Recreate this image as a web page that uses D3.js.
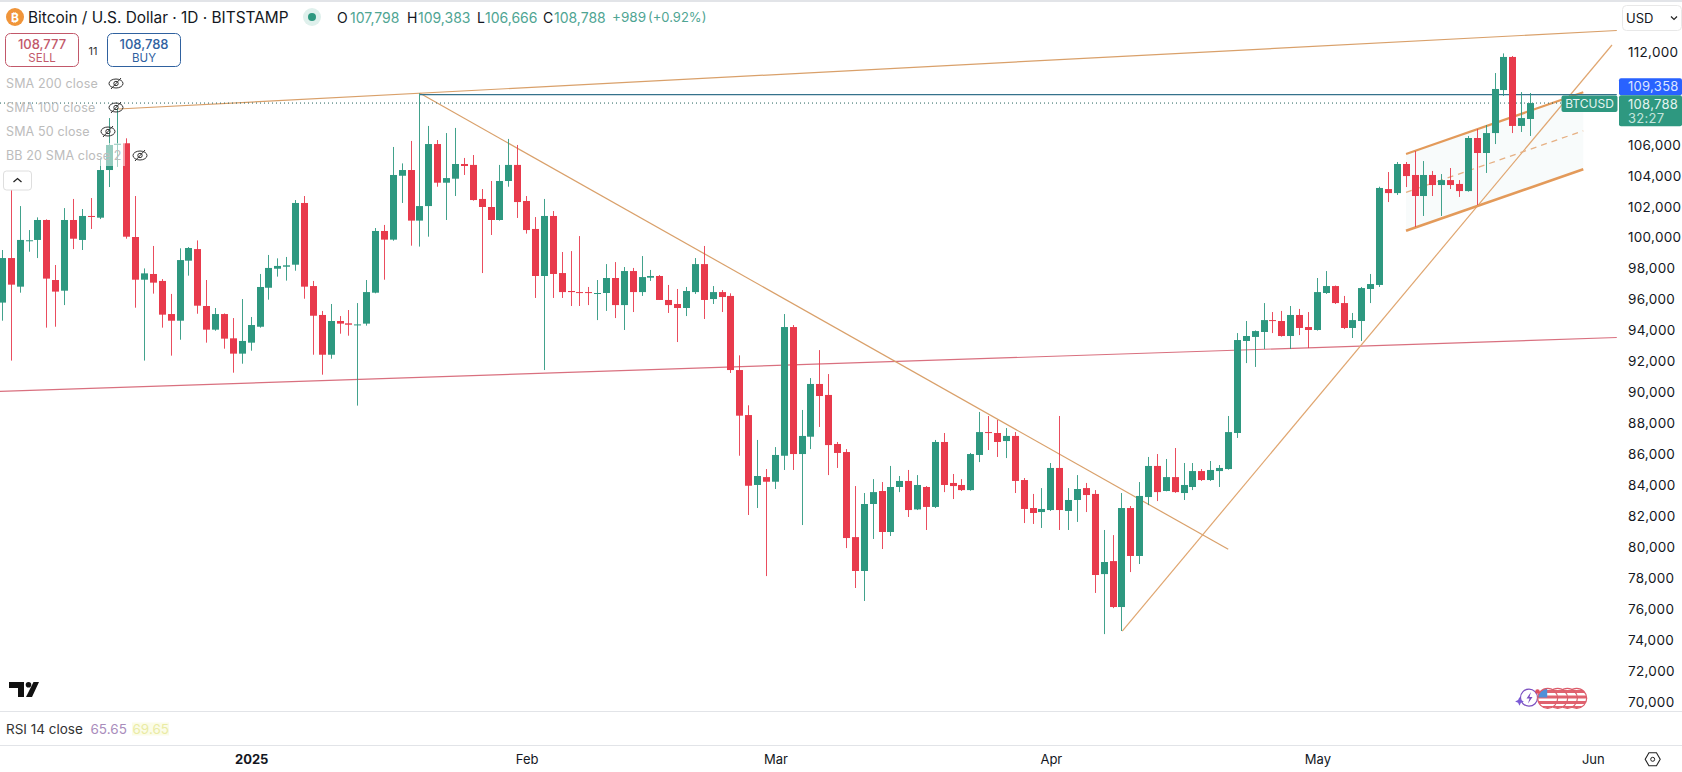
<!DOCTYPE html>
<html>
<head>
<meta charset="utf-8">
<script src="https://cdn.jsdelivr.net/npm/d3@7"></script>
<style>
html, body { margin: 0; padding: 0; background: #fff; overflow: hidden; }
text { font-family: Inter, "Noto Sans", sans-serif; }
</style>
</head>
<body>
<script>
// daily candles, index 0 = 4 Dec 2024
const opens = [
95800,98680,96830,99800,99850,101140,97260,96570,101140,99850,
101400,101290,104370,106000,106100,100040,97280,97650,97200,95060,
94630,98510,99260,95580,94050,95060,93490,92500,93210,94240,
96760,97990,98120,98250,102240,96870,95000,92430,94610,94460,
94350,94440,96440,100430,99870,104000,104370,101100,102040,106050,
103550,103810,104760,104700,102500,101980,101140,103660,104700,102370,
100560,97520,101400,97710,96550,96480,96480,96380,96420,97390,
95640,97840,96480,97410,97520,95970,95710,95450,96480,98290,
96030,96480,96230,91440,88530,84010,84520,84220,85900,94220,
86010,87130,90540,89830,86660,86140,80640,78450,82780,83620,
80970,83880,84270,82430,83880,82590,86790,84140,84010,83680,
85950,87430,87370,86850,87180,84330,82520,82260,82390,85110,
82330,83040,83810,83430,78250,79090,76120,82520,79420,83230,
85240,83620,84520,83490,83880,84910,84330,84910,85040,87370,
93320,93580,93900,94670,94610,93640,95000,94220,94030,96420,
96870,95770,94160,94610,96680,96940,103140,102880,104760,104050,
102690,104050,103400,103720,103470,103010,106440,105470,106760,109540,
111680,107220,107670];
const closes = [
98680,96960,99850,99830,101140,97350,96510,101140,99930,101400,
101360,104370,105990,106070,100060,97280,97690,97090,95020,94630,
98550,99330,95600,94050,95060,93470,92500,93320,94350,96810,
98040,98170,98210,102240,96830,94950,92430,94610,94440,94370,
94390,96480,100430,99870,104050,104370,101100,102040,106050,103550,
103850,104760,104630,102430,101980,101140,103660,104700,102300,100490,
97520,101400,97650,96480,96480,96420,96420,96420,97390,95640,
97840,96480,97450,97520,95970,95640,95450,96550,98290,95970,
96480,96160,91440,88490,83960,84590,84220,85950,94220,86010,
87180,90540,89760,86590,86080,80580,78450,82780,83550,80970,
83880,84270,82390,84010,82590,86790,84010,83940,83680,86010,
87430,87370,86790,87180,84270,82460,82200,82460,85110,82390,
83040,83750,83360,78190,79030,76120,82520,79420,83300,85240,
83550,84520,83550,84010,84910,84330,84980,85110,87430,93380,
93640,93960,94670,94610,93640,95000,94160,94030,96480,96870,
95770,94160,94670,96740,97000,103210,102880,104760,103980,102690,
104050,103400,103720,103400,103010,106440,105470,106760,109610,111680,
107220,107730,108700];
const highs = [
99200,104050,102040,100490,101310,101180,98230,101910,102500,101850,
102560,105130,107730,108380,106420,102690,98010,99460,97320,96360,
99310,99390,99820,97260,95450,95100,94800,96030,94870,97650,
98880,98660,98750,102430,102690,97200,95260,95710,94930,95320,
95770,97260,100620,100820,105860,104800,106250,109330,107220,106310,
106760,107090,105150,105340,103140,103660,104700,106380,105990,102690,
101330,102500,101720,99070,99130,100100,96810,97260,98290,98420,
98100,98040,98810,97910,97580,96940,96680,96810,98680,99460,
96870,96610,96400,92390,89160,86920,85040,86460,95060,94350,
88860,90920,92730,91180,86790,86330,83940,83490,84390,84200,
85240,84590,84980,84650,83940,86920,87370,84720,84390,86080,
88730,88470,88210,87690,87430,84460,83430,83810,85430,88470,
83810,84650,84140,83680,81100,80770,83490,82650,84200,85820,
86010,85690,86400,85430,85430,85040,85560,85300,88470,93830,
94610,94000,95770,95190,95260,95580,95390,95190,97390,97840,
96900,96230,95130,96810,97650,103290,104240,104890,104890,105600,
104950,104310,104110,104500,103720,106570,107020,107280,110640,111910,
111740,109410,109350];
const lows = [
94630,92050,96440,99090,98680,94180,94240,95640,99260,99200,
100560,101200,103270,104600,99930,95470,92050,96380,94180,92370,
93400,97540,95080,93210,93980,92820,91270,91850,92690,94180,
95990,97480,97220,97860,96050,92430,91140,92170,93790,93660,
89140,94310,96400,97280,99800,102240,99480,99420,100060,103290,
101140,102690,104050,102390,97710,100170,101100,103290,101270,100260,
96100,91440,96100,96100,95580,95580,95640,94670,95260,94800,
94030,95190,96230,97200,95970,95130,93250,94930,96360,94740,
95710,95190,91250,85900,82070,82520,78120,83750,84980,84980,
81420,86330,87760,84650,85110,79930,77350,76510,80520,79870,
80710,83550,81940,82390,81100,82520,83550,83100,83620,83640,
85490,86270,85820,85750,83490,81550,81490,81230,82330,81100,
81100,81620,82260,77030,74370,76050,74570,78380,78900,82710,
82970,83600,83500,83040,83680,84270,84270,83880,85000,87050,
91890,91640,92800,93830,93600,92800,93700,92860,93990,96360,
95710,94090,93510,93320,95770,96810,102300,102760,103270,100690,
101400,102690,101400,103140,102630,102970,102110,104180,106050,109160,
106760,106830,106570];

// 108,000 and 110,000 sit under the price tags in the reference
const priceTicks = [70000,72000,74000,76000,78000,80000,82000,84000,86000,88000,90000,92000,94000,96000,98000,100000,102000,104000,106000,112000];
const dayTicks = [28, 59, 87, 118, 148, 179];
const dayLabels = ["2025", "Feb", "Mar", "Apr", "May", "Jun"];

// drawn lines: [day index, price] end points
const topLine = [[13.04, 108315], [181.7, 113390]];
const downLine = [[47, 109330], [137.97, 79850]];
const supportLine = [[-0.27, 90064], [181.7, 93543]];
const upLine = [[126.04, 74567], [181.16, 112453]];
const channelUpper = [[157.98, 105406], [177.93, 109395]];
const channelLower = [[157.98, 100447], [177.93, 104417]];
const channelMid = [[157.98, 102926], [177.93, 106906]];
const rayPrice = 109240;
const rayStart = 47;
const lastPrice = 108700;
const rightDay = 181.7;

const ohlcLabels = [["O", "107,798", 337, 350], ["H", "109,383", 407, 418], ["L", "106,666", 477, 485], ["C", "108,788", 543, 554]];
const legendRows = ["SMA 200 close", "SMA 100 close", "SMA 50 close", "BB 20 SMA close 2"];

const w = 1682, h = 772;
const up = "#2e9880", down = "#e83a4c", orange = "#e39a5a";

const x = d3.scaleLinear().domain([0, 172]).range([2.4, 1530.6]);
const y = d3.scaleLinear().domain([112000, 70000]).range([52, 701.7]);
const cx = i => Math.floor(x(i)) + 0.5;

const svg = d3.select("body").append("svg").attr("width", w).attr("height", h).style("display", "block");

const line = d3.line().x(d => x(d[0])).y(d => y(d[1]));

// channel fill and lines sit behind the candles
svg.append("path")
  .attr("d", line(channelUpper.concat(channelLower.slice().reverse())) + "Z")
  .attr("fill", "#2e9880").attr("fill-opacity", 0.035);

function trend(pts, color, width, dash) {
  svg.append("path").attr("d", line(pts)).attr("fill", "none")
    .attr("stroke", color).attr("stroke-width", width)
    .attr("stroke-dasharray", dash || null);
}
trend(supportLine, "#d9707f", 1.2);
trend(topLine, "#d9a06a", 1.2);
trend(downLine, "#d9a06a", 1.2);
trend(upLine, "#e0a670", 1.2);
trend(channelUpper, orange, 2.2);
trend(channelLower, orange, 2.6);
trend(channelMid, "#e6b083", 1.3, "6 5");

// last price dotted, resistance ray solid
svg.append("line").attr("x1", 0).attr("x2", x(rightDay)).attr("y1", y(lastPrice)).attr("y2", y(lastPrice))
  .attr("stroke", "#1f5f5a").attr("stroke-width", 1).attr("stroke-dasharray", "1 3");
svg.append("line").attr("x1", x(rayStart)).attr("x2", x(rightDay)).attr("y1", y(rayPrice)).attr("y2", y(rayPrice))
  .attr("stroke", "#35728c").attr("stroke-width", 1.2);

// candles
const candles = svg.append("g").selectAll("g").data(opens).enter().append("g")
  .attr("fill", (d, i) => closes[i] >= d ? up : down)
  .attr("stroke", (d, i) => closes[i] >= d ? up : down);
candles.append("line")
  .attr("x1", (d, i) => cx(i)).attr("x2", (d, i) => cx(i))
  .attr("y1", (d, i) => y(highs[i])).attr("y2", (d, i) => y(lows[i]))
  .attr("stroke-width", 1).attr("stroke-opacity", 0.9);
candles.append("rect")
  .attr("x", (d, i) => cx(i) - 3.5).attr("width", 7)
  .attr("y", (d, i) => y(Math.max(d, closes[i])))
  .attr("height", (d, i) => Math.max(1, Math.abs(y(d) - y(closes[i]))))
  .attr("stroke", "none");

// legend rows wash out what is under them
svg.append("rect").attr("x", 0).attr("y", 143).attr("width", 125).attr("height", 23).attr("fill", "#fff").attr("fill-opacity", 0.5);

// price axis
const yAxis = svg.append("g").attr("transform", "translate(1628,0)")
  .call(d3.axisRight(y).tickValues(priceTicks).tickSize(0).tickPadding(0).tickFormat(d3.format(",")));
yAxis.select(".domain").remove();
yAxis.selectAll("text").attr("font-size", 13.5).attr("fill", "#131722").style("font-family", "Inter").attr("letter-spacing", 0.3);

// time axis
const xAxis = svg.append("g").attr("transform", "translate(0,755)")
  .call(d3.axisBottom(x).tickValues(dayTicks).tickSize(0).tickPadding(0).tickFormat((d, i) => dayLabels[i]));
xAxis.select(".domain").remove();
xAxis.selectAll("text").attr("font-size", 13).attr("fill", "#131722").style("font-family", "Inter")
  .attr("font-weight", (d, i) => i == 0 ? 700 : 400);

// frame lines
[[0, 2], [711, 1], [745, 1]].forEach(d => {
  svg.append("rect").attr("x", 0).attr("y", d[0]).attr("width", w).attr("height", d[1]).attr("fill", "#e2e4e8");
});

function txt(s, tx, ty, size, color, anchor, weight) {
  return svg.append("text").attr("x", tx).attr("y", ty).attr("font-size", size).attr("fill", color)
    .attr("text-anchor", anchor || "start").attr("font-weight", weight || 400)
    .attr("dominant-baseline", "central").text(s);
}

// header
svg.append("circle").attr("cx", 15).attr("cy", 17).attr("r", 9).attr("fill", "#f0953a");
txt("₿", 15, 17, 12, "#fff", "middle", 700);
txt("Bitcoin / U.S. Dollar · 1D · BITSTAMP", 28, 17, 15.4, "#131722");
svg.append("circle").attr("cx", 312).attr("cy", 17).attr("r", 9).attr("fill", "#dff0ec");
svg.append("circle").attr("cx", 312).attr("cy", 17).attr("r", 4).attr("fill", up);
ohlcLabels.forEach(d => {
  txt(d[0], d[2], 17, 14, "#131722");
  txt(d[1], d[3], 17, 14, "#4fa593");
});
txt("+989", 612, 17, 13.5, "#4fa593");
txt("(+0.92%)", 648, 17, 13, "#4fa593");

// sell / buy boxes
function tradeBox(bx, color, price, label) {
  svg.append("rect").attr("x", bx).attr("y", 33.5).attr("width", 73).attr("height", 33).attr("rx", 5)
    .attr("fill", "#fff").attr("stroke", color).attr("stroke-width", 1);
  txt(price, bx + 36.5, 44, 13, color, "middle", 500);
  txt(label, bx + 36.5, 58, 11.5, color, "middle");
}
tradeBox(5.5, "#c2586a", "108,777", "SELL");
tradeBox(107.5, "#2f619f", "108,788", "BUY");
txt("11", 93, 51, 11, "#333", "middle");

// indicator legend
const eyeX = [116, 116, 108, 140];
legendRows.forEach((s, i) => {
  const ry = 83.5 + i * 24;
  txt(s, 6, ry, 12.5, "#bcbcbc").attr("letter-spacing", 0.15);
  const eye = svg.append("g").attr("transform", `translate(${eyeX[i]},${ry})`).attr("fill", "none").attr("stroke", "#333").attr("stroke-width", 1);
  eye.append("ellipse").attr("rx", 7).attr("ry", 4.5);
  eye.append("circle").attr("r", 2.2);
  eye.append("line").attr("x1", -5).attr("y1", 5.5).attr("x2", 5).attr("y2", -5.5);
});

// collapse button
svg.append("rect").attr("x", 3.5).attr("y", 171).attr("width", 28).attr("height", 19).attr("rx", 3)
  .attr("fill", "#fff").attr("stroke", "#dedede");
svg.append("path").attr("d", "M13.5 182l4-3.5 4 3.5").attr("fill", "none").attr("stroke", "#222").attr("stroke-width", 1.3);

// logo
svg.append("path").attr("d", "M9 682h15v15h-6v-9h-9z M33.5 682h5.5l-7 15h-6z").attr("fill", "#111");
svg.append("circle").attr("cx", 28.5).attr("cy", 684.8).attr("r", 2.8).attr("fill", "#111");

// RSI row
txt("RSI 14 close", 6, 729, 13.5, "#333");
txt("65.65", 90.5, 729, 13.5, "#a98cbb");
svg.append("rect").attr("x", 132).attr("y", 722.5).attr("width", 37).attr("height", 13).attr("fill", "#fbfce8");
txt("69.65", 132.5, 729, 13.5, "#eaeba4");

// USD select
svg.append("rect").attr("x", 1622.5).attr("y", 5.5).attr("width", 59).attr("height", 25).attr("rx", 4).attr("fill", "#fff").attr("stroke", "#e8e8e8");
txt("USD", 1626, 17.5, 13, "#131722");
svg.append("path").attr("d", "M1671 16.5l3 3 3-3").attr("fill", "none").attr("stroke", "#222").attr("stroke-width", 1.2);

// price tags
svg.append("rect").attr("x", 1619).attr("y", 78.3).attr("width", 63).attr("height", 17).attr("rx", 2).attr("fill", "#2962ff");
txt("109,358", 1628, 86, 13, "#dbe6ff").attr("letter-spacing", 0.3);
svg.append("rect").attr("x", 1619).attr("y", 95.3).attr("width", 63).attr("height", 31).attr("rx", 2).attr("fill", up);
txt("108,788", 1628, 103.5, 13, "#e4f4f0").attr("letter-spacing", 0.3);
txt("32:27", 1628, 118, 13, "#c4e4dc").attr("letter-spacing", 0.3);
svg.append("rect").attr("x", 1561.5).attr("y", 95.5).attr("width", 56).attr("height", 16.5).attr("rx", 2).attr("fill", up);
txt("BTCUSD", 1589.5, 103.7, 12, "#e4f4f0", "middle");

// settings hexagon
const hex = d3.range(6).map(i => [1652.7 + 7.5 * Math.cos(i * Math.PI / 3), 759.3 + 7.5 * Math.sin(i * Math.PI / 3)]);
svg.append("path").attr("d", d3.line()(hex) + "Z").attr("fill", "none").attr("stroke", "#222").attr("stroke-width", 1.1);
svg.append("circle").attr("cx", 1652.7).attr("cy", 759.3).attr("r", 2).attr("fill", "none").attr("stroke", "#222");

// event markers
const ev = svg.append("g");
ev.append("circle").attr("cx", 1529).attr("cy", 697.7).attr("r", 8.5).attr("fill", "#fff").attr("stroke", "#7b4fc0").attr("stroke-width", 1.2);
ev.append("path").attr("d", "M1531 692l-4.5 6.5h3l-1.5 5 4.5-6.5h-3z").attr("fill", "#7b4fc0");
ev.append("path").attr("d", "M1519.5 697l1.4 3 3 1.4-3 1.4-1.4 3-1.4-3-3-1.4 3-1.4z").attr("fill", "#7b5bd6");
const defs = svg.append("defs");
[1576.7, 1567.4, 1557.7, 1547.7].forEach((fx, i) => {
  const id = "flag" + i;
  defs.append("clipPath").attr("id", id).append("circle").attr("cx", fx).attr("cy", 698.3).attr("r", 10);
  const f = ev.append("g");
  f.append("circle").attr("cx", fx).attr("cy", 698.3).attr("r", 10).attr("fill", "#fff");
  const c = f.append("g").attr("clip-path", `url(#${id})`);
  [690, 695.5, 701, 706].forEach(sy => c.append("rect").attr("x", fx - 10).attr("y", sy).attr("width", 20).attr("height", 3).attr("fill", "#e0626f"));
  if (i == 3) c.append("rect").attr("x", fx - 10).attr("y", 688).attr("width", 9.5).attr("height", 9.5).attr("fill", "#4f8fd8");
  f.append("circle").attr("cx", fx).attr("cy", 698.3).attr("r", 10).attr("fill", "none").attr("stroke", "#dc5c6a").attr("stroke-width", 1.2);
});
ev.append("circle").attr("cx", 1537.5).attr("cy", 691.5).attr("r", 2.3).attr("fill", "#e0505e");
</script>
</body>
</html>
